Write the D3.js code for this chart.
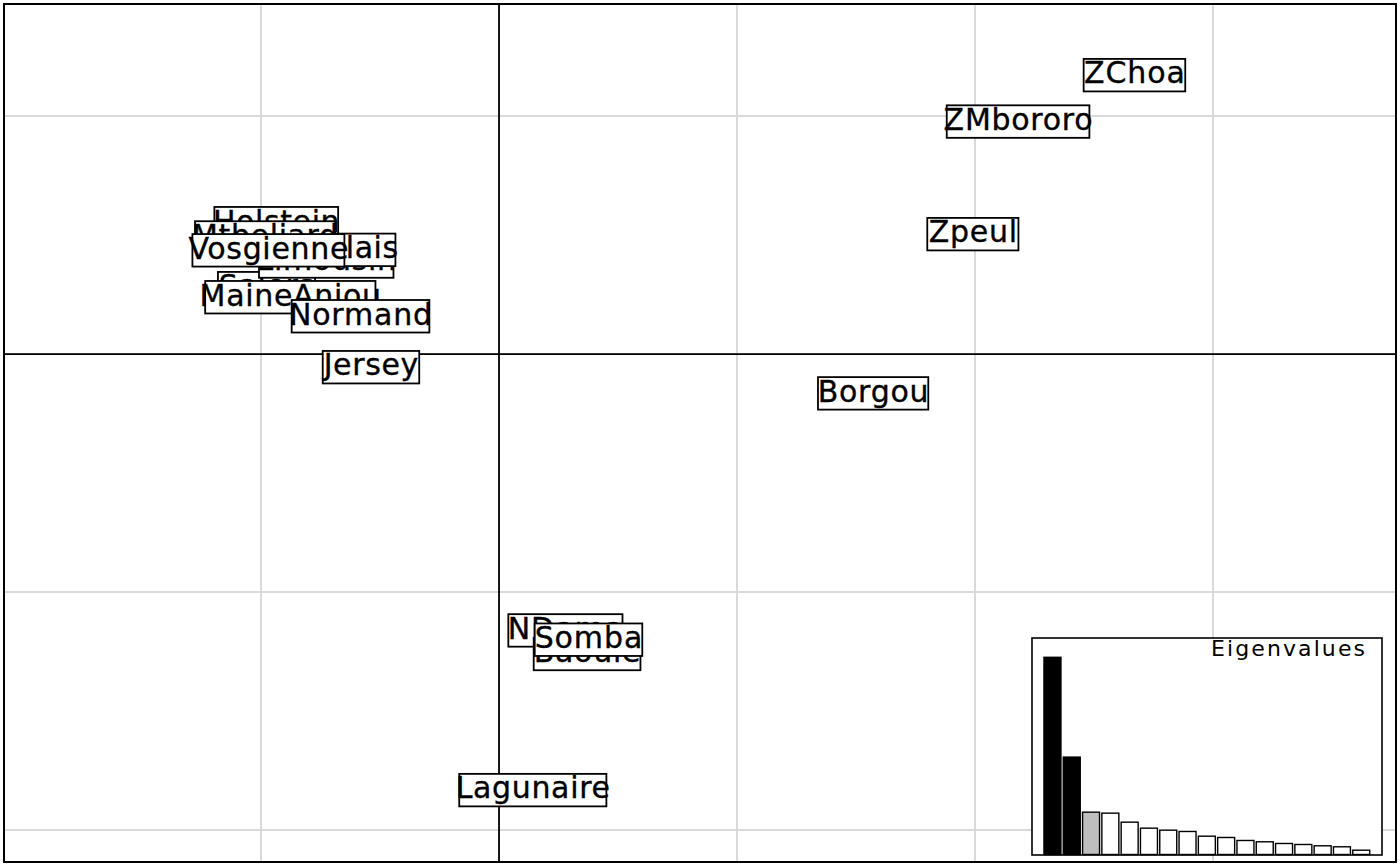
<!DOCTYPE html>
<html>
<head>
<meta charset="utf-8">
<script src="https://cdn.jsdelivr.net/npm/d3@7"></script>
<style>
  html, body { margin: 0; padding: 0; background: #fff; }
  svg { display: block; }
</style>
</head>
<body>
<svg id="chart" width="1400" height="866"></svg>
<script>
// ---- data (drawing order: first drawn underneath) ----
const labels = ["Salers", "Holstein", "Limousin", "Charolais", "Mtbeliard", "Vosgienne",
  "MaineAnjou", "Normand", "Jersey", "NDama", "Baoule", "Somba", "Lagunaire",
  "Borgou", "Zpeul", "ZMbororo", "ZChoa"];
const coordX = [-0.977, -0.936, -0.726, -0.726, -0.983, -0.969,
  -0.877, -0.582, -0.538, 0.279, 0.370, 0.376, 0.142,
  1.572, 1.991, 2.181, 2.670];
const coordY = [0.277, 0.550, 0.389, 0.438, 0.490, 0.436,
  0.239, 0.159, -0.055, -1.161, -1.260, -1.200, -1.832,
  -0.165, 0.504, 0.977, 1.172];
const eigenvalues = [197, 97.3, 42.3, 41.3, 32.3, 26.3, 24.3, 23, 18.3, 17, 14, 12.7, 11, 10, 8.7, 7.7, 4.3];
const gridX = [-1, 0, 1, 2, 3];
const gridY = [-2, -1, 0, 1];
const nAxesShown = 2; // bars drawn black
const nSelected = 3;  // bar drawn grey

// ---- layout ----
const svg = d3.select("#chart");
const L = 4, R = 1396, T = 4, B = 862;
const x = d3.scaleLinear().domain([-2.080, 3.769]).range([L, R]);
const y = d3.scaleLinear().domain([-2.134, 1.471]).range([B, T]);
const FONT = "DejaVu Sans";

svg.append("rect").attr("x", 0).attr("y", 0).attr("width", 1400).attr("height", 866).attr("fill", "#fff");

// grid
const grid = svg.append("g");
grid.selectAll("line.gx").data(gridX).join("line")
  .attr("x1", d => x(d)).attr("x2", d => x(d)).attr("y1", T).attr("y2", B)
  .attr("stroke", "#d9d9d9").attr("stroke-width", 2);
grid.selectAll("line.gy").data(gridY).join("line")
  .attr("y1", d => y(d)).attr("y2", d => y(d)).attr("x1", L).attr("x2", R)
  .attr("stroke", "#d9d9d9").attr("stroke-width", 2);

// origin axes
svg.append("line").attr("x1", x(0)).attr("x2", x(0)).attr("y1", T).attr("y2", B)
  .attr("stroke", "#000").attr("stroke-width", 1.8);
svg.append("line").attr("y1", y(0)).attr("y2", y(0)).attr("x1", L).attr("x2", R)
  .attr("stroke", "#000").attr("stroke-width", 1.8);

// labels
const FS = 30;
labels.forEach((lab, i) => {
  const cx = x(coordX[i]), cy = y(coordY[i]);
  const g = svg.append("g");
  const t = g.append("text")
    .attr("font-family", FONT).attr("font-size", FS)
    .attr("x", cx).attr("y", cy + 8.3)
    .attr("text-anchor", "middle")
    .attr("fill", "#000").attr("stroke", "#000").attr("stroke-width", 0.35)
    .text(lab);
  const nat = t.node().getComputedTextLength();
  t.attr("textLength", nat * 1.035).attr("lengthAdjust", "spacing");
  const w = nat * 0.88 + 16, h = 32.5;
  g.insert("rect", "text")
    .attr("x", cx - w / 2).attr("y", cy - h / 2)
    .attr("width", w).attr("height", h)
    .attr("fill", "#fff").attr("stroke", "#000").attr("stroke-width", 1.8);
});

// eigenvalue inset
const ins = { l: 1032, r: 1382, t: 638, b: 855 };
const inset = svg.append("g");
inset.append("rect").attr("x", ins.l).attr("y", ins.t)
  .attr("width", ins.r - ins.l).attr("height", ins.b - ins.t)
  .attr("fill", "#fff").attr("stroke", "#000").attr("stroke-width", 1.6);
const xb = d3.scaleBand().domain(d3.range(eigenvalues.length))
  .range([1042.8, 1370.9]).paddingInner(0.12).paddingOuter(0.06);
const yb = d3.scaleLinear().domain([0, d3.max(eigenvalues)]).range([854.5, 657.3]);
inset.selectAll("rect.bar").data(eigenvalues).join("rect")
  .attr("class", "bar")
  .attr("x", (d, i) => xb(i)).attr("width", xb.bandwidth())
  .attr("y", d => yb(d)).attr("height", d => yb(0) - yb(d))
  .attr("fill", (d, i) => i < nAxesShown ? "#000" : (i < nSelected ? "#bebebe" : "#fff"))
  .attr("stroke", "#000").attr("stroke-width", 1.4);
const et = inset.append("text")
  .attr("font-family", FONT).attr("font-size", 22)
  .attr("x", 1211).attr("y", 656)
  .attr("fill", "#000")
  .text("Eigenvalues");
et.attr("textLength", 154).attr("lengthAdjust", "spacing");

// border
svg.append("rect").attr("x", L).attr("y", T).attr("width", R - L).attr("height", B - T)
  .attr("fill", "none").attr("stroke", "#000").attr("stroke-width", 2);
</script>
</body>
</html>
